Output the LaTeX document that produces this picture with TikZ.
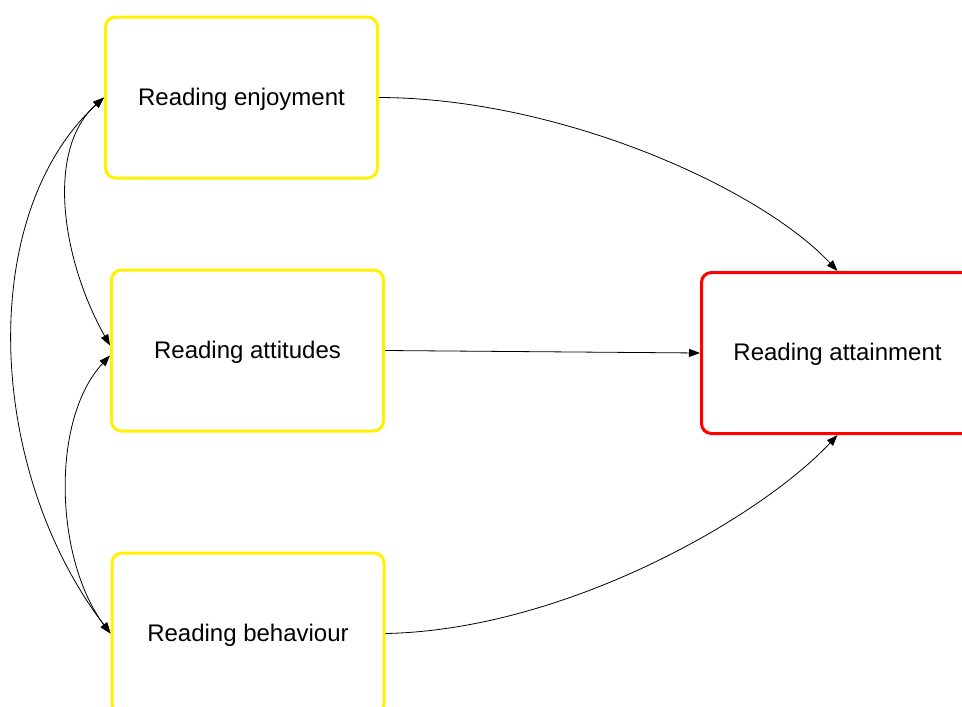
\documentclass[tikz,border=0pt]{standalone}
\usepackage{fontspec}
\setmainfont{Liberation Sans}
\usetikzlibrary{arrows.meta}

\tikzset{
  factor/.style={draw=yellow, line width=3pt, rounded corners=10pt,
    minimum width=272pt, minimum height=161pt, inner sep=0pt,
    text height=17.5pt, text depth=2pt,
    font=\fontsize{24pt}{28pt}\selectfont},
  outcome/.style={factor, draw=red},
  link/.style={line width=0.8pt, -{Triangle[length=11pt,width=8pt]}},
  covar/.style={line width=0.8pt, {Triangle[length=11pt,width=8pt]}-{Triangle[length=11pt,width=8pt]}}
}

\begin{document}
\begin{tikzpicture}[x=1pt,y=-1pt]
  \useasboundingbox (0,0) rectangle (962,707);
  \clip (0,0) rectangle (962,707);
  \fill[white] (0,0) rectangle (962,707);

  % predictor boxes
  \node[factor] (enj) at (241.5,97.5) {Reading enjoyment};
  \node[factor] (att) at (247.5,350.5) {Reading attitudes};
  \node[factor] (beh) at (248,633.5) {Reading behaviour};
  % outcome box
  \node[outcome] (ach) at (837.5,353) {Reading attainment};

  % paths to the outcome
  \draw[link] (enj.east) .. controls (560,98) and (760,188) .. (ach.north);
  \draw[link] (att.east) -- (ach.west);
  \draw[link] (beh.east) .. controls (565,630) and (760,518) .. (ach.south);

  % correlations between predictors
  \draw[covar] (enj.west) .. controls (45,150) and (62,260) .. ([yshift=5pt]att.west);
  \draw[covar] (enj.west) .. controls (-24,215) and (-14,470) .. (beh.west);
  \draw[covar] ([yshift=-5pt]att.west) .. controls (50,420) and (55,560) .. (beh.west);
\end{tikzpicture}
\end{document}
